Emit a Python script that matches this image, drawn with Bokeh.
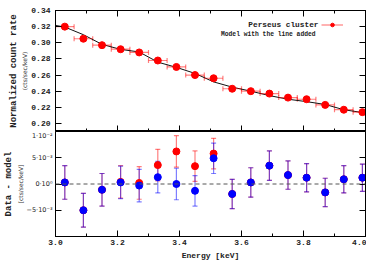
from bokeh.plotting import figure
from bokeh.layouts import column
from bokeh.models import (ColumnDataSource, Whisker, TeeHead, Span, Label, LinearAxis,
                          SingleIntervalTicker, FixedTicker, CustomJSTickFormatter,
                          Legend, LegendItem, Range1d)
from bokeh.embed import file_html
from bokeh.resources import INLINE

# ---------------- data ----------------
energy = [3.03, 3.09, 3.15, 3.21, 3.27, 3.33, 3.39, 3.45, 3.51,
          3.57, 3.63, 3.69, 3.75, 3.81, 3.87, 3.93, 3.99]
energy_halfwidth = [0.03, 0.03, 0.03, 0.03, 0.03, 0.03, 0.03, 0.03, 0.03,
                    0.03, 0.03, 0.03, 0.03, 0.03, 0.03, 0.03, 0.03]
rate = [0.320, 0.305, 0.297, 0.292, 0.288, 0.278, 0.270, 0.260, 0.256,
        0.243, 0.240, 0.237, 0.232, 0.230, 0.223, 0.217, 0.214]

model_energy = [3.00, 3.03, 3.09, 3.15, 3.21, 3.27, 3.33, 3.39, 3.45, 3.51,
                3.57, 3.63, 3.69, 3.75, 3.81, 3.87, 3.93, 3.99, 4.00]
model_rate = [0.3215, 0.3195, 0.3100, 0.2980, 0.2918, 0.2886, 0.2760, 0.2695, 0.2620, 0.2515,
              0.2450, 0.2400, 0.2345, 0.2300, 0.2270, 0.2235, 0.2170, 0.2135, 0.2130]

# residuals: data - continuum-only model (red) and data - model with the line (blue)
resid_cont = [0.0003, -0.0050, -0.0011, 0.0004, 0.0002, 0.0036, 0.0062, 0.0034, 0.0058,
              -0.0019, 0.0003, 0.0035, 0.0017, 0.0012, -0.0016, 0.0009, 0.0012]
resid_line = [0.0003, -0.0050, -0.0011, 0.0003, -0.0003, 0.0013, 0.0000, -0.0013, 0.0049,
              -0.0019, 0.0003, 0.0035, 0.0017, 0.0012, -0.0016, 0.0009, 0.0012]
resid_err = [0.0032, 0.0032, 0.0031, 0.0031, 0.0031, 0.0030, 0.0030, 0.0029, 0.0029,
             0.0028, 0.0028, 0.0028, 0.0027, 0.0027, 0.0027, 0.0026, 0.0026]

rate_ticks = [0.20, 0.22, 0.24, 0.26, 0.28, 0.30, 0.32, 0.34]
res_ticks = [-0.005, 0.0, 0.005, 0.01]
res_tick_labels = ["\u22125\u00b710\u207b\u00b3", "0\u00b710\u2070",
                   "5\u00b710\u207b\u00b3", "1\u00b710\u207b\u00b2"]

# ---------------- styles ----------------
MONO = "Liberation Mono"
RED = "#ff0000"
BLUE = "#0000ff"
TXT = "#222222"

xr = Range1d(3.0, 4.0)


def style_axis(ax, show_labels=True):
    ax.major_tick_in = 6
    ax.major_tick_out = 0
    ax.minor_tick_in = 3
    ax.minor_tick_out = 0
    ax.axis_line_color = "black"
    ax.major_tick_line_color = "black"
    ax.minor_tick_line_color = "black"
    ax.major_label_text_font = MONO
    ax.major_label_text_font_style = "bold"
    ax.major_label_text_color = TXT
    ax.major_label_text_font_size = "8px" if show_labels else "0px"
    ax.major_label_standoff = 5 if show_labels else 0
    if not show_labels:
        ax.major_label_text_alpha = 0


def label_axis(text, font, size, style, standoff):
    ax = LinearAxis(ticker=FixedTicker(ticks=[]), axis_label=text)
    ax.axis_line_color = None
    ax.major_tick_line_color = None
    ax.minor_tick_line_color = None
    ax.major_label_text_font_size = "0px"
    ax.major_label_standoff = 0
    ax.major_tick_out = 0
    ax.major_tick_in = 0
    ax.axis_label_text_font = font
    ax.axis_label_text_font_size = size
    ax.axis_label_text_font_style = style
    ax.axis_label_text_color = TXT
    ax.axis_label_standoff = standoff
    return ax


fmt2 = CustomJSTickFormatter(code="return tick.toFixed(2);")
fmt1 = CustomJSTickFormatter(code="return tick.toFixed(1);")

# ---------------- top panel ----------------
top = figure(width=366, height=131, x_range=xr, y_range=Range1d(0.19, 0.34),
             output_backend="svg", toolbar_location=None,
             x_axis_type=None, y_axis_type=None,
             min_border_left=55, min_border_right=1, min_border_top=10, min_border_bottom=0)
top.outline_line_color = "black"
top.grid.visible = False

xt = dict(interval=0.2, num_minor_ticks=2)
for side in ("below", "above"):
    ax = LinearAxis(ticker=SingleIntervalTicker(**xt))
    style_axis(ax, False)
    top.add_layout(ax, side)
ly = LinearAxis(ticker=FixedTicker(ticks=rate_ticks), formatter=fmt2,
                axis_label="(cts/sec/keV)")
style_axis(ly, True)
ly.axis_label_text_font = "DejaVu Sans"
ly.axis_label_text_font_size = "6px"
ly.axis_label_text_font_style = "normal"
ly.axis_label_text_color = "#333333"
ly.axis_label_standoff = 0
top.add_layout(ly, "left")
top.add_layout(label_axis("Normalized count rate", MONO, "9px", "bold", 0), "left")
ry = LinearAxis(ticker=FixedTicker(ticks=rate_ticks))
style_axis(ry, False)
top.add_layout(ry, "right")

src = ColumnDataSource(dict(
    x=energy, y=rate,
    xlo=[e - h for e, h in zip(energy, energy_halfwidth)],
    xhi=[e + h for e, h in zip(energy, energy_halfwidth)]))

top.line(model_energy, model_rate, line_color="#111111", line_width=1)
seg = top.segment(x0="xlo", x1="xhi", y0="y", y1="y", source=src,
                  line_color=RED, line_alpha=0.5, line_width=1.2)
top.add_layout(Whisker(source=src, base="y", lower="xlo", upper="xhi", dimension="width",
                       line_alpha=0,
                       upper_head=TeeHead(size=5, line_color=RED, line_alpha=0.5, line_width=1.2),
                       lower_head=TeeHead(size=5, line_color=RED, line_alpha=0.5, line_width=1.2)))
sc = top.scatter(x="x", y="y", source=src, size=7, fill_color=RED, line_color=RED)

leg = Legend(items=[LegendItem(label=" ", renderers=[seg, sc])],
             location=(266, 102), glyph_width=22, glyph_height=9,
             padding=0, margin=0, spacing=0, label_standoff=0, label_width=0,
             label_height=9, label_text_font_size="1px",
             background_fill_alpha=0, border_line_alpha=0)
top.add_layout(leg)

top.add_layout(Label(x=263, y=107, x_units="screen", y_units="screen", text="Perseus cluster",
                     text_align="right", text_baseline="middle", text_font=MONO,
                     text_font_style="bold", text_font_size="7.8px", text_color=TXT))
top.add_layout(Label(x=260, y=97, x_units="screen", y_units="screen",
                     text="Model with the line added",
                     text_align="right", text_baseline="middle", text_font=MONO,
                     text_font_style="bold", text_font_size="6.3px", text_color=TXT))

# ---------------- bottom panel ----------------
bot = figure(width=366, height=131, x_range=xr, y_range=Range1d(-0.01, 0.01),
             output_backend="svg", toolbar_location=None,
             x_axis_type=None, y_axis_type=None,
             min_border_left=55, min_border_right=1, min_border_top=0, min_border_bottom=26)
bot.outline_line_color = "black"
bot.grid.visible = False

bx = LinearAxis(ticker=SingleIntervalTicker(**xt), formatter=fmt1, axis_label="Energy [keV]")
style_axis(bx, True)
bx.major_label_standoff = 3
bx.axis_label_standoff = 3
bx.axis_label_text_font = MONO
bx.axis_label_text_font_style = "bold"
bx.axis_label_text_font_size = "8px"
bx.axis_label_text_color = TXT
bot.add_layout(bx, "below")

fmt_res = CustomJSTickFormatter(args=dict(vals=res_ticks, labs=res_tick_labels), code="""
for (let i = 0; i < vals.length; i++) {
  if (Math.abs(tick - vals[i]) < 1e-9) return labs[i];
}
return "";
""")
by = LinearAxis(ticker=FixedTicker(ticks=res_ticks), formatter=fmt_res,
                axis_label="[cts/sec/keV]")
style_axis(by, True)
by.major_label_standoff = 3
by.major_label_text_font = "DejaVu Sans"
by.major_label_text_font_style = "normal"
by.major_label_text_font_size = "6.5px"
by.axis_label_text_font = "DejaVu Sans"
by.axis_label_text_font_size = "6px"
by.axis_label_text_font_style = "normal"
by.axis_label_text_color = "#333333"
by.axis_label_standoff = 0
bot.add_layout(by, "left")
bot.add_layout(label_axis("Data - model", MONO, "9px", "bold", 0), "left")
rr = LinearAxis(ticker=FixedTicker(ticks=res_ticks))
style_axis(rr, False)
bot.add_layout(rr, "right")

bot.add_layout(Span(location=0, dimension="width", line_color="#555555",
                    line_dash="4 3", line_width=1))

rsrc = ColumnDataSource(dict(
    x=energy, yc=resid_cont, yl=resid_line,
    clo=[v - e for v, e in zip(resid_cont, resid_err)],
    chi=[v + e for v, e in zip(resid_cont, resid_err)],
    llo=[v - e for v, e in zip(resid_line, resid_err)],
    lhi=[v + e for v, e in zip(resid_line, resid_err)]))

for lo, hi, col in (("clo", "chi", RED), ("llo", "lhi", BLUE)):
    bot.add_layout(Whisker(source=rsrc, base="x", lower=lo, upper=hi, dimension="height",
                           line_color=col, line_alpha=0.5, line_width=1.2,
                           upper_head=TeeHead(size=5, line_color=col, line_alpha=0.5, line_width=1.2),
                           lower_head=TeeHead(size=5, line_color=col, line_alpha=0.5, line_width=1.2)))
bot.scatter(x="x", y="yc", source=rsrc, size=7, fill_color=RED, line_color=RED)
bot.scatter(x="x", y="yl", source=rsrc, size=7, fill_color=BLUE, line_color=BLUE)

layout = column(top, bot, spacing=0)
open("out.html", "w").write(file_html(layout, INLINE))
